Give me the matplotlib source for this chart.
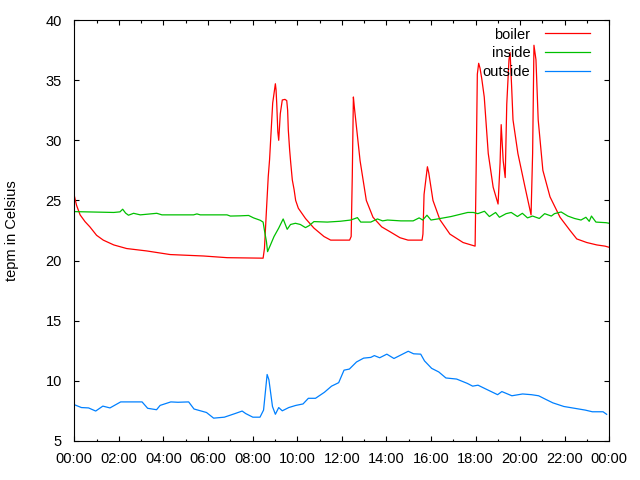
import numpy as np
import matplotlib
matplotlib.use('Agg')
import matplotlib.pyplot as plt
from matplotlib.ticker import MultipleLocator

plt.rcParams['font.family'] = ['Liberation Sans', 'DejaVu Sans']

# time of day in hours, temperatures in Celsius
boiler_t = [0, 0.1, 0.26, 0.48, 0.7, 1.0, 1.3, 1.77, 2.35, 3.25, 4.3, 5.8, 6.86, 8.47,
            8.53, 8.62, 8.7, 8.76, 8.8, 8.84, 8.9, 8.96, 9.02, 9.05, 9.08, 9.13, 9.17,
            9.24, 9.33, 9.45, 9.53, 9.57, 9.6, 9.66, 9.71, 9.78, 9.86, 9.93, 10.05,
            10.37, 10.75, 11.2, 11.5, 11.94, 12.35, 12.42, 12.47, 12.52, 12.56, 12.82,
            13.1, 13.4, 13.79, 14.16, 14.61, 14.97, 15.6, 15.64, 15.69, 15.84, 15.9,
            16.09, 16.4, 16.85, 17.44, 17.98, 18.03, 18.08, 18.14, 18.2, 18.28, 18.39,
            18.57, 18.79, 19.01, 19.1, 19.15, 19.24, 19.33, 19.4, 19.5, 19.55, 19.62,
            19.68, 19.9, 20.22, 20.49, 20.56, 20.62, 20.71, 20.81, 21.02, 21.34, 21.79,
            22.24, 22.54, 22.99, 23.44, 23.81, 24.0]
boiler = [25.4, 24.6, 23.8, 23.24, 22.8, 22.1, 21.7, 21.3, 21.0, 20.8, 20.5, 20.38, 20.24, 20.2,
          21.0, 24.2, 26.97, 28.4, 29.75, 31.1, 33.1, 33.9, 34.7, 34.2, 33.1, 30.7, 30.0,
          32.2, 33.35, 33.4, 33.3, 32.5, 30.86, 29.2, 28.1, 26.7, 25.9, 25.0, 24.35,
          23.5, 22.7, 22.0, 21.7, 21.7, 21.7, 22.0, 27.0, 33.6, 32.8, 28.3,
          25.0, 23.6, 22.8, 22.4, 21.9, 21.7, 21.7, 22.2, 25.5, 27.8, 27.3,
          25.0, 23.4, 22.2, 21.5, 21.2, 28.0, 35.5, 36.4, 36.0, 35.1, 33.6,
          28.9, 26.1, 24.7, 28.1, 31.3, 28.3, 26.9, 33.0, 36.7, 37.3, 34.4,
          31.7, 28.9, 26.1, 23.8, 28.9, 37.9, 36.7, 31.7, 27.5, 25.3, 23.6,
          22.5, 21.8, 21.5, 21.3, 21.2, 21.1]

inside_t = [0, 1.77, 2.05, 2.17, 2.3, 2.43, 2.66, 2.96, 3.7, 3.93, 5.35, 5.5, 5.65, 6.85,
            7.0, 7.45, 7.82, 8.04, 8.34, 8.47, 8.54, 8.62, 8.67, 8.8, 8.96, 9.17, 9.37,
            9.55, 9.7, 9.92, 10.14, 10.37, 10.53, 10.75, 11.35, 11.94, 12.4, 12.7, 12.85,
            13.3, 13.6, 13.83, 14.05, 14.65, 15.2, 15.47, 15.63, 15.82, 16.0, 16.3, 16.9,
            17.65, 17.9, 18.1, 18.4, 18.62, 18.9, 19.07, 19.37, 19.6, 19.88, 20.1, 20.33,
            20.56, 20.86, 21.1, 21.4, 21.54, 21.84, 22.14, 22.44, 22.73, 22.95, 23.1,
            23.2, 23.4, 23.85, 24.0]
inside = [24.07, 24.0, 24.05, 24.27, 23.95, 23.77, 23.93, 23.8, 23.93, 23.8, 23.8, 23.88, 23.8, 23.8,
          23.7, 23.72, 23.75, 23.55, 23.35, 23.2, 22.4, 21.57, 20.74, 21.3, 22.0, 22.7, 23.46,
          22.6, 23.0, 23.1, 23.0, 22.74, 22.9, 23.24, 23.2, 23.27, 23.37, 23.57, 23.2,
          23.2, 23.46, 23.3, 23.37, 23.3, 23.3, 23.55, 23.37, 23.77, 23.37, 23.46, 23.66,
          24.0, 24.0, 23.9, 24.1, 23.66, 24.0, 23.6, 23.9, 24.0, 23.66, 23.93, 23.55,
          23.7, 23.5, 23.9, 23.7, 23.9, 24.04, 23.7, 23.5, 23.37, 23.6, 23.26,
          23.7, 23.2, 23.15, 23.1]

outside_t = [0, 0.32, 0.64, 0.96, 1.28, 1.6, 2.08, 3.04, 3.29, 3.69, 3.85, 4.33, 4.65, 5.13,
             5.37, 5.93, 6.25, 6.73, 7.21, 7.53, 7.69, 8.01, 8.33, 8.49, 8.65, 8.73, 8.89,
             9.02, 9.17, 9.33, 9.62, 9.94, 10.26, 10.5, 10.82, 11.22, 11.54, 11.86, 12.1,
             12.34, 12.66, 12.98, 13.3, 13.46, 13.7, 14.02, 14.34, 14.66, 14.98, 15.22,
             15.54, 15.71, 16.03, 16.35, 16.67, 17.15, 17.63, 17.87, 18.11, 18.43, 18.99,
             19.18, 19.63, 20.11, 20.51, 20.83, 21.15, 21.47, 21.96, 22.44, 22.92, 23.24,
             23.72, 23.88]
outside = [8.02, 7.78, 7.75, 7.49, 7.9, 7.75, 8.25, 8.25, 7.72, 7.6, 7.96, 8.25, 8.22, 8.25,
           7.66, 7.37, 6.9, 6.98, 7.28, 7.49, 7.28, 6.98, 6.98, 7.57, 10.53, 10.09, 7.87,
           7.22, 7.78, 7.51, 7.78, 7.96, 8.08, 8.55, 8.55, 9.05, 9.56, 9.85, 10.89,
           10.98, 11.57, 11.89, 11.95, 12.1, 11.92, 12.22, 11.86, 12.16, 12.46, 12.25,
           12.22, 11.66, 11.04, 10.74, 10.24, 10.15, 9.79, 9.56, 9.64, 9.35, 8.85,
           9.11, 8.76, 8.91, 8.85, 8.76, 8.46, 8.17, 7.87, 7.72, 7.57, 7.43,
           7.43, 7.22]

hour_ticks = list(range(0, 25, 2))
hour_labels = ['00:00', '02:00', '04:00', '06:00', '08:00', '10:00', '12:00',
               '14:00', '16:00', '18:00', '20:00', '22:00', '00:00']

fig = plt.figure(figsize=(6.4, 4.8), dpi=100)
ax = fig.add_axes([74.3 / 640, 1 - 441 / 480, 535 / 640, 421 / 480])

ax.plot(boiler_t, boiler, color='#ff0000', lw=0.9, label='boiler')
ax.plot(inside_t, inside, color='#00c000', lw=0.9, label='inside')
ax.plot(outside_t, outside, color='#0080ff', lw=0.9, label='outside')

ax.set_xlim(0, 24)
ax.set_ylim(5, 40)
ax.set_xticks(hour_ticks)
ax.set_xticklabels(hour_labels)
ax.xaxis.set_minor_locator(MultipleLocator(1))
ax.set_yticks(range(5, 41, 5))

fs = 10.5
ax.tick_params(which='both', direction='in', top=True, right=True,
               labelsize=fs, color='black', width=0.8)
ax.tick_params(which='major', length=3.6)
ax.tick_params(which='minor', length=1.8)
ax.tick_params(axis='x', pad=8)
ax.tick_params(axis='y', pad=9)
for s in ax.spines.values():
    s.set_linewidth(0.8)

ax.set_ylabel('tepm in Celsius', fontsize=fs)
ax.yaxis.set_label_coords(-0.103, 0.5)

ax.legend(loc='upper right', bbox_to_anchor=(0.964, 0.982), frameon=False,
          markerfirst=False, fontsize=fs, handlelength=3.1, handletextpad=1.0,
          labelspacing=0.32, borderpad=0, borderaxespad=0)

fig.savefig('out.png', dpi=100)
